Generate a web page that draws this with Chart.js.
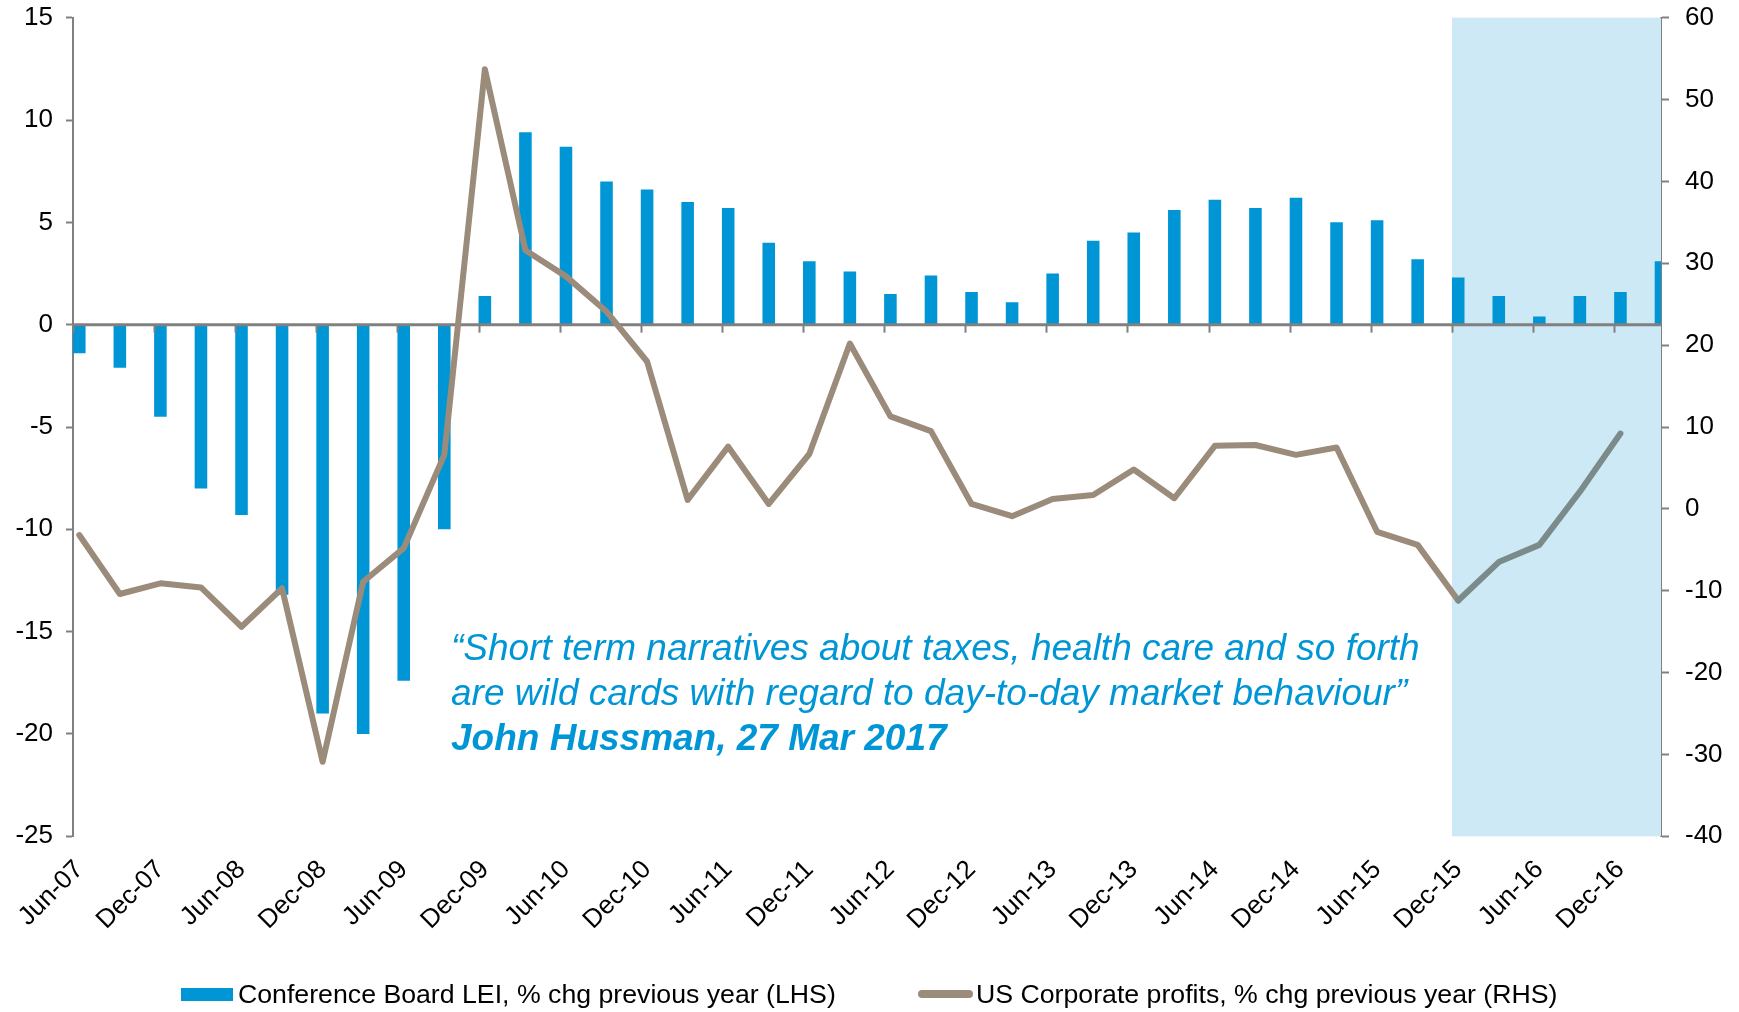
<!DOCTYPE html>
<html>
<head>
<meta charset="utf-8">
<script src="https://cdn.jsdelivr.net/npm/chart.js@4.4.1/dist/chart.umd.min.js"></script>
<style>
  html, body { margin: 0; padding: 0; background: #ffffff; }
  #wrap { position: relative; width: 1739px; height: 1012px; overflow: hidden; }
  canvas { display: block; }
  .quote { position: absolute; left: 451px; font-family: 'Liberation Sans', Arial, sans-serif;
           font-style: italic; font-size: 37px; line-height: 45px; color: #0096d6; white-space: nowrap; }
  .quote b { font-weight: bold; }
  .lg { position: absolute; top: 978px; height: 32px; font-family: 'Liberation Sans', Arial, sans-serif;
        font-size: 26.7px; line-height: 32px; color: #000; white-space: nowrap; }
  .sw { position: absolute; }
</style>
</head>
<body>
<div id="wrap">
  <canvas id="chart" width="1739" height="1012"></canvas>
  <div class="quote" style="top:625px">“Short term narratives about taxes, health care and so forth<br>are wild cards with regard to day-to-day market behaviour”<br><b>John Hussman, 27 Mar 2017</b></div>
  <div class="sw" id="sw0" style="left:181px; top:988px; width:52px; height:13px;"></div>
  <div class="lg" id="lg0" style="left:238px;"></div>
  <div class="sw" id="sw1" style="left:918px; top:990px; width:55px; height:8px; border-radius:4px;"></div>
  <div class="lg" id="lg1" style="left:976px;"></div>
</div>
<script>
// ---------------- data ----------------
const quarters = ['Jun-07','Sep-07','Dec-07','Mar-08','Jun-08','Sep-08','Dec-08','Mar-09','Jun-09','Sep-09',
  'Dec-09','Mar-10','Jun-10','Sep-10','Dec-10','Mar-11','Jun-11','Sep-11','Dec-11','Mar-12',
  'Jun-12','Sep-12','Dec-12','Mar-13','Jun-13','Sep-13','Dec-13','Mar-14','Jun-14','Sep-14',
  'Dec-14','Mar-15','Jun-15','Sep-15','Dec-15','Mar-16','Jun-16','Sep-16','Dec-16','Mar-17'];
const leiYoY = [-1.4,-2.1,-4.5,-8.0,-9.3,-13.2,-19.0,-20.0,-17.4,-10.0,
  1.4,9.4,8.7,7.0,6.6,6.0,5.7,4.0,3.1,2.6,
  1.5,2.4,1.6,1.1,2.5,4.1,4.5,5.6,6.1,5.7,
  6.2,5.0,5.1,3.2,2.3,1.4,0.4,1.4,1.6,3.1];
const profitsYoY = [-3.2,-10.4,-9.1,-9.6,-14.4,-9.7,-30.9,-8.9,-4.8,6.6,
  53.7,31.6,28.4,24.1,18.0,1.1,7.6,0.6,6.7,20.2,
  11.3,9.5,0.6,-0.9,1.2,1.7,4.8,1.3,7.7,7.8,
  6.6,7.5,-2.8,-4.4,-11.2,-6.5,-4.4,2.1,9.2,null];
const xTickLabels = ['Jun-07','Dec-07','Jun-08','Dec-08','Jun-09','Dec-09','Jun-10','Dec-10','Jun-11','Dec-11',
  'Jun-12','Dec-12','Jun-13','Dec-13','Jun-14','Dec-14','Jun-15','Dec-15','Jun-16','Dec-16'];
const legendLabels = ['Conference Board LEI, % chg previous year (LHS)', 'US Corporate profits, % chg previous year (RHS)'];
const shadeFrom = 'Dec-15';

// ---------------- styles ----------------
const BAR_COLOR = '#0096d6';
const LINE_COLOR = '#9b8b7a';
const LINE_SHADED = '#7b8b8a';
const SHADE_COLOR = '#cde9f6';
const AXIS_COLOR = '#808080';
const BAR_HALF = 0.155;
const FONT = "'Liberation Sans', Arial, sans-serif";

const shadeIdx = quarters.indexOf(shadeFrom);
const labelStep = quarters.length / xTickLabels.length;

// legend (HTML text)
document.getElementById('lg0').textContent = legendLabels[0];
document.getElementById('lg1').textContent = legendLabels[1];
document.getElementById('sw0').style.background = BAR_COLOR;
document.getElementById('sw1').style.background = LINE_COLOR;

const overlay = {
  id: 'overlay',
  beforeDatasetsDraw(chart) {
    const { ctx, chartArea: a, scales: { x } } = chart;
    const x0 = x.getPixelForValue(shadeIdx - BAR_HALF);
    ctx.save();
    ctx.fillStyle = SHADE_COLOR;
    ctx.fillRect(x0, a.top, a.right - x0, a.bottom - a.top);
    ctx.restore();
  },
  afterDatasetDraw(chart, args) {
    if (args.index !== 0) return;
    const { ctx, chartArea: a, scales: { x, y } } = chart;
    const y0 = y.getPixelForValue(0);
    ctx.save();
    ctx.strokeStyle = AXIS_COLOR;
    ctx.lineWidth = 3;
    ctx.beginPath();
    ctx.moveTo(a.left, y0);
    ctx.lineTo(a.right, y0);
    ctx.stroke();
    ctx.lineWidth = 2;
    xTickLabels.forEach((l, k) => {
      const px = Math.round(x.getPixelForValue(k * labelStep - BAR_HALF)) + 0.5;
      ctx.beginPath();
      ctx.moveTo(px, y0);
      ctx.lineTo(px, y0 + 8);
      ctx.stroke();
    });
    ctx.restore();
  }
};

Chart.defaults.font.family = FONT;
Chart.defaults.color = '#000';

const fixY = w => s => { s.width = w; s.paddingTop = 0; s.paddingBottom = 0; };

new Chart(document.getElementById('chart'), {
  type: 'bar',
  data: {
    datasets: [
      {
        type: 'bar',
        label: legendLabels[0],
        data: leiYoY.map((v, i) => ({ x: i, y: v })),
        backgroundColor: BAR_COLOR,
        yAxisID: 'y',
        barPercentage: 0.31,
        categoryPercentage: 1,
        order: 2
      },
      {
        type: 'line',
        label: legendLabels[1],
        data: profitsYoY.map((v, i) => ({ x: i, y: v })),
        borderColor: LINE_COLOR,
        borderWidth: 6,
        pointRadius: 0,
        tension: 0,
        borderJoinStyle: 'round',
        borderCapStyle: 'round',
        yAxisID: 'y2',
        order: 1,
        segment: {
          borderColor: c => (c.p0DataIndex >= shadeIdx ? LINE_SHADED : undefined)
        }
      }
    ]
  },
  options: {
    responsive: false,
    animation: false,
    devicePixelRatio: 1,
    layout: { padding: { top: 17.7, bottom: 55.7, left: 0, right: 0 } },
    plugins: {
      tooltip: { enabled: false },
      legend: { display: false }
    },
    scales: {
      x: {
        type: 'linear',
        position: 'bottom',
        offset: false,
        min: -BAR_HALF,
        max: quarters.length - 1,
        grid: { display: false, drawTicks: false },
        border: { display: false },
        afterBuildTicks: s => { s.ticks = xTickLabels.map((l, k) => ({ value: k * labelStep })); },
        ticks: {
          autoSkip: false,
          minRotation: 45,
          maxRotation: 45,
          padding: 18,
          font: { size: 26 },
          color: '#000',
          callback: (v, i) => xTickLabels[i]
        },
        afterFit: s => { s.height = 120; }
      },
      y: {
        type: 'linear',
        position: 'left',
        min: -25,
        max: 15,
        ticks: { stepSize: 5, font: { size: 26 }, color: '#000', padding: 13 },
        grid: { drawOnChartArea: false, tickLength: 7, tickColor: AXIS_COLOR, tickWidth: 2 },
        border: { color: AXIS_COLOR, width: 2 },
        afterFit: fixY(73)
      },
      y2: {
        type: 'linear',
        position: 'right',
        min: -40,
        max: 60,
        z: 1,
        ticks: { stepSize: 10, font: { size: 26 }, color: '#000', padding: 16 },
        grid: { drawOnChartArea: false, tickLength: 8, tickColor: AXIS_COLOR, tickWidth: 2 },
        border: { color: AXIS_COLOR, width: 2 },
        afterFit: fixY(78)
      }
    }
  },
  plugins: [overlay]
});
</script>
</body>
</html>
